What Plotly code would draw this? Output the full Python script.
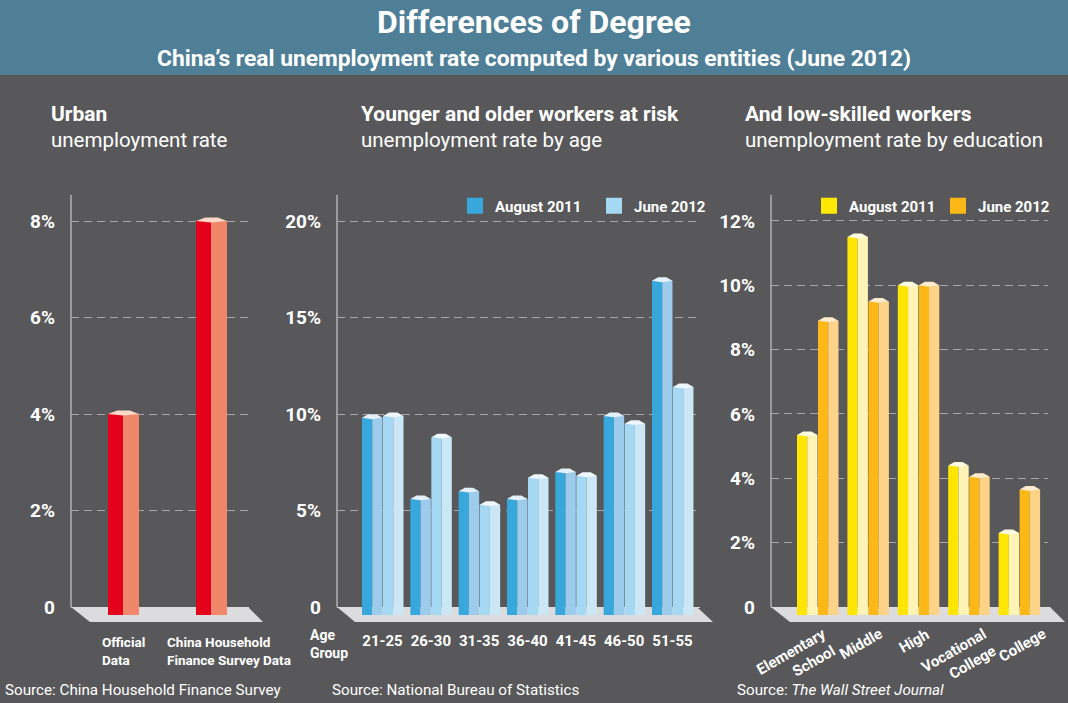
import plotly.graph_objects as go

W, H = 1068, 703

# ---------------- data ----------------
urban_categories = ["Official<br>Data", "China Household<br>Finance Survey Data"]
urban_rates = [4.0, 8.0]

age_groups = ["21-25", "26-30", "31-35", "36-40", "41-45", "46-50", "51-55"]
age_aug2011 = [9.8, 5.6, 6.0, 5.6, 7.0, 9.9, 16.9]
age_jun2012 = [9.9, 8.8, 5.3, 6.7, 6.8, 9.5, 11.4]

edu_levels = ["Elementary<br>School", "Middle", "High", "Vocational<br>College", "College"]
edu_aug2011 = [5.35, 11.5, 10.0, 4.4, 2.3]
edu_jun2012 = [8.9, 9.5, 10.0, 4.05, 3.65]

urban_ticks = [0, 2, 4, 6, 8]
age_ticks = [0, 5, 10, 15, 20]
edu_ticks = [0, 2, 4, 6, 8, 10, 12]

# ---------------- styling ----------------
FONT = "Roboto"
BG = "#58585a"
BAND = "#4f7f97"
FLOOR = "#dcdcde"
GRID = "#a8a8aa"
AXLINE = "#c8c8ca"

Y_TOP, Y_ZERO, Y_BOT = 195, 607, 622
BAR_SINK = 8     # px the bars go below the zero plane
CAP_H = 3.5      # px height of the bar top cap
EDU_LABEL_SHIFT = [25, 20, 17, 34, 33]   # px shift of rotated labels


def px(x):
    return x / W


def py(y):
    return 1 - y / H


panels = {
    "": dict(x0=71, x1=249, c0=123, unit=88.0, ppu=48.25),
    "2": dict(x0=337, x1=700, c0=382.5, unit=48.33, ppu=19.3),
    "3": dict(x0=771, x1=1048, c0=817.5, unit=50.4, ppu=32.17),
}
for p in panels.values():
    p["xrange"] = [(p["x0"] - p["c0"]) / p["unit"], (p["x1"] - p["c0"]) / p["unit"]]
    p["yrange"] = [-(Y_BOT - Y_ZERO) / p["ppu"], (Y_ZERO - Y_TOP) / p["ppu"]]

fig = go.Figure()


def add_bar3d(ax, vals, off_px, wf_px, ws_px, front, side, cap):
    p = panels[ax]
    u, ppu = p["unit"], p["ppu"]
    xs = list(range(len(vals)))
    sink = BAR_SINK / ppu
    xa, ya = "x" + ax, "y" + ax
    fig.add_trace(go.Bar(x=xs, y=[v + sink for v in vals], base=-sink,
                         offset=off_px / u, width=wf_px / u,
                         marker=dict(color=front, line=dict(width=0)),
                         xaxis=xa, yaxis=ya, showlegend=False, hoverinfo="skip"))
    fig.add_trace(go.Bar(x=xs, y=[v + sink for v in vals], base=-sink,
                         offset=(off_px + wf_px) / u, width=ws_px / u,
                         marker=dict(color=side, line=dict(width=0)),
                         xaxis=xa, yaxis=ya, showlegend=False, hoverinfo="skip"))
    # top cap polygons
    cx, cy = [], []
    dy = CAP_H / ppu
    for i, v in zip(xs, vals):
        xl = i + off_px / u
        xb = i + (off_px + wf_px) / u
        xr = i + (off_px + wf_px + ws_px) / u
        w = xr - xl
        cx += [xl, xl + 0.3 * w, xr - 0.3 * w, xr, xb, xl, None]
        cy += [v, v + dy, v + dy, v, v - 0.4 * dy, v, None]
    fig.add_trace(go.Scatter(x=cx, y=cy, mode="lines", fill="toself",
                             fillcolor=cap, line=dict(width=0, color=cap),
                             xaxis=xa, yaxis=ya, showlegend=False, hoverinfo="skip"))


# panel 1
add_bar3d("", urban_rates, -15, 15, 16, "#e2001a", "#f0876a", "#fbd9c8")
# panel 2
add_bar3d("2", age_aug2011, -20.5, 10.25, 10.25, "#38a7dc", "#9ccbeb", "#e4f1fa")
add_bar3d("2", age_jun2012, 0.5, 10.25, 10.25, "#a5d8f2", "#cbe7f6", "#eef7fc")
# panel 3
add_bar3d("3", edu_aug2011, -20.5, 10.25, 10.25, "#ffe500", "#fff4b5", "#fffbe0")
add_bar3d("3", edu_jun2012, 0.5, 10.25, 10.25, "#fbb817", "#fdd388", "#ffeccc")

# legend entries
for name, col, ax, lg in [("August 2011", "#38a7dc", "2", "legend2"),
                          ("June 2012", "#a5d8f2", "2", "legend2"),
                          ("August 2011", "#ffe900", "3", "legend3"),
                          ("June 2012", "#fbb817", "3", "legend3")]:
    fig.add_trace(go.Scatter(x=[None], y=[None], mode="markers", name=name,
                             marker=dict(symbol="square", size=18, color=col),
                             xaxis="x" + ax, yaxis="y" + ax, legend=lg,
                             showlegend=True))

tickfont_y = dict(family=FONT, size=19, color="white", weight="bold")

layout_axes = {}
for ax, p, ticks in [("", panels[""], urban_ticks), ("2", panels["2"], age_ticks),
                     ("3", panels["3"], edu_ticks)]:
    xa = dict(domain=[px(p["x0"]), px(p["x1"])], range=p["xrange"],
              showgrid=False, zeroline=False, showline=False, ticks="",
              anchor="y" + ax, fixedrange=True, showticklabels=False)
    if ax == "2":
        xa.update(showticklabels=True, tickvals=list(range(len(age_groups))),
                  ticktext=age_groups, ticklabelstandoff=8,
                  tickfont=dict(family=FONT, size=15, color="white", weight="bold"))
    ya = dict(domain=[py(Y_BOT), py(Y_TOP)], range=p["yrange"],
              tickvals=ticks,
              ticktext=[("0" if t == 0 else f"{t}%") for t in ticks],
              showgrid=True, gridcolor=GRID, griddash="8px,5px", gridwidth=1,
              zeroline=True, zerolinecolor=FLOOR, zerolinewidth=1,
              showline=False, ticks="", tickfont=tickfont_y,
              ticklabelstandoff=15, anchor="x" + ax, fixedrange=True)
    layout_axes["xaxis" + ax] = xa
    layout_axes["yaxis" + ax] = ya

fig.update_layout(**layout_axes)

shapes = [
    dict(type="rect", xref="paper", yref="paper", x0=0, x1=1, y0=py(75), y1=1,
         fillcolor=BAND, line=dict(width=0), layer="below"),
]
floors = [((71, 248, 263, 90)), ((337, 697, 713, 355)), ((771, 1050, 1065, 790))]
for (a, b, c, d) in floors:
    shapes.append(dict(type="path", xref="paper", yref="paper",
                       path=f"M{px(a)},{py(Y_ZERO)} L{px(b)},{py(Y_ZERO)} L{px(c)},{py(Y_BOT)} L{px(d)},{py(Y_BOT)} Z",
                       fillcolor=FLOOR, line=dict(width=0), layer="below"))
for x in (71, 337, 771):
    shapes.append(dict(type="line", xref="paper", yref="paper",
                       x0=px(x), x1=px(x), y0=py(Y_ZERO), y1=py(Y_TOP),
                       line=dict(color=AXLINE, width=1.2), layer="below"))

ann = []


def text(t, x, y, size, xanchor="left", yanchor="middle", **kw):
    ann.append(dict(text=t, x=x, y=y, xref="paper", yref="paper", showarrow=False,
                    xanchor=xanchor, yanchor=yanchor,
                    font=dict(family=FONT, size=size, color="white"), **kw))


text("<b>Differences of Degree</b>", 0.5, py(22), 32, xanchor="center")
text("<b>China’s real unemployment rate computed by various entities (June 2012)</b>",
     0.5, py(59), 22.8, xanchor="center")

text("<b>Urban</b>", px(49), py(114), 21)
text("unemployment rate", px(49), py(140), 20.5)
text("<b>Younger and older workers at risk</b>", px(359), py(114), 21)
text("unemployment rate by age", px(359), py(140), 20.5)
text("<b>And low-skilled workers</b>", px(743), py(114), 21)
text("unemployment rate by education", px(743), py(140), 20.5)

text("Source: China Household Finance Survey", px(3), py(690), 15.2)
text("Source: National Bureau of Statistics", px(330), py(690), 15.2)
text("Source: <i>The Wall Street Journal</i>", px(735), py(690), 15.2)

text("<b>Age<br>Group</b>", px(308), py(625), 14, yanchor="top", align="left")

# panel 1 category labels
for i, (lab, shift) in enumerate(zip(urban_categories, [-23, -46])):
    ann.append(dict(text=f"<b>{lab}</b>", x=i, y=py(632), xref="x", yref="paper",
                    xshift=shift, showarrow=False, xanchor="left", yanchor="top",
                    align="left", font=dict(family=FONT, size=13.5, color="white")))

# panel 3 rotated category labels
for i, (lab, sh) in enumerate(zip(edu_levels, EDU_LABEL_SHIFT)):
    ann.append(dict(text=f"<b>{lab}</b>", x=i, y=py(622), xref="x3", yref="paper",
                    xshift=sh, showarrow=False, xanchor="right", yanchor="top",
                    align="right", textangle=-30,
                    font=dict(family=FONT, size=15, color="white")))

legend_common = dict(orientation="h", bgcolor="rgba(0,0,0,0)", borderwidth=0,
                     font=dict(family=FONT, size=15, color="white", weight="bold"),
                     itemsizing="trace", xanchor="left", yanchor="middle",
                     itemclick=False, itemdoubleclick=False, entrywidthmode="pixels")
fig.update_layout(
    legend2=dict(x=px(455), y=py(206), entrywidth=94, **legend_common),
    legend3=dict(x=px(809), y=py(206), entrywidth=84, **legend_common),
)

fig.update_layout(
    width=W, height=H, margin=dict(l=0, r=0, t=0, b=0),
    paper_bgcolor=BG, plot_bgcolor="rgba(0,0,0,0)",
    barmode="overlay", shapes=shapes, annotations=ann,
    font=dict(family=FONT, color="white"),
)

fig.write_html("out.html", config={"displayModeBar": False},
               post_script="document.body.style.margin='0';document.body.style.overflow='hidden';")
